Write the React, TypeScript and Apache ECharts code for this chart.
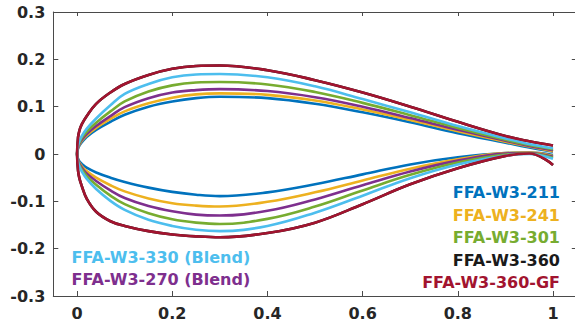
import React, { useEffect, useRef } from "react";
import * as echarts from "echarts";

// Chordwise stations shared by every profile (x / c)
const X_STATIONS = [0, 0.002, 0.005, 0.01, 0.02, 0.04, 0.07, 0.1, 0.15, 0.2, 0.25, 0.3, 0.4, 0.5, 0.6, 0.7, 0.8, 0.9, 0.95, 1];

// Upper / lower surface ordinates (y / c) at the stations above
const UPPER_211 = [0, 0.012, 0.018, 0.025, 0.036, 0.051, 0.068, 0.083, 0.1, 0.111, 0.118, 0.121, 0.118, 0.106, 0.088, 0.067, 0.044, 0.024, 0.014, 0.005];
const LOWER_211 = [0, -0.01, -0.016, -0.021, -0.029, -0.039, -0.05, -0.059, -0.071, -0.08, -0.086, -0.089, -0.081, -0.064, -0.043, -0.022, -0.007, 0.002, 0.003, -0.002];

const UPPER_241 = [0, 0.013, 0.02, 0.028, 0.039, 0.055, 0.074, 0.09, 0.107, 0.119, 0.126, 0.128, 0.125, 0.113, 0.094, 0.072, 0.048, 0.026, 0.016, 0.006];
const LOWER_241 = [0, -0.012, -0.019, -0.026, -0.036, -0.05, -0.066, -0.079, -0.094, -0.104, -0.109, -0.111, -0.101, -0.081, -0.056, -0.031, -0.011, 0.002, 0.003, -0.004];

const UPPER_270 = [0, 0.014, 0.022, 0.03, 0.042, 0.059, 0.08, 0.099, 0.118, 0.13, 0.135, 0.137, 0.133, 0.12, 0.1, 0.076, 0.051, 0.028, 0.017, 0.008];
const LOWER_270 = [0, -0.013, -0.021, -0.029, -0.041, -0.057, -0.077, -0.093, -0.11, -0.121, -0.128, -0.13, -0.12, -0.096, -0.066, -0.037, -0.014, 0.001, 0.002, -0.006];

const UPPER_301 = [0, 0.016, 0.024, 0.034, 0.047, 0.066, 0.09, 0.111, 0.132, 0.145, 0.151, 0.152, 0.147, 0.131, 0.108, 0.082, 0.055, 0.03, 0.019, 0.01];
const LOWER_301 = [0, -0.015, -0.024, -0.033, -0.046, -0.065, -0.088, -0.106, -0.125, -0.138, -0.145, -0.148, -0.137, -0.111, -0.077, -0.044, -0.018, -0.001, 0.001, -0.008];

const UPPER_330 = [0, 0.018, 0.027, 0.038, 0.053, 0.075, 0.103, 0.127, 0.148, 0.162, 0.168, 0.169, 0.162, 0.143, 0.116, 0.088, 0.059, 0.033, 0.021, 0.012];
const LOWER_330 = [0, -0.017, -0.027, -0.037, -0.052, -0.074, -0.099, -0.118, -0.139, -0.152, -0.16, -0.163, -0.152, -0.124, -0.088, -0.051, -0.022, -0.003, 0, -0.01];

const UPPER_360 = [0, 0.035, 0.05, 0.063, 0.08, 0.106, 0.13, 0.148, 0.167, 0.18, 0.186, 0.187, 0.177, 0.156, 0.13, 0.1, 0.068, 0.038, 0.027, 0.018];
const LOWER_360 = [0, -0.035, -0.052, -0.068, -0.094, -0.122, -0.142, -0.152, -0.163, -0.17, -0.174, -0.176, -0.167, -0.145, -0.106, -0.064, -0.03, -0.004, 0.001, -0.023];

const X_TICKS = [0, 0.2, 0.4, 0.6, 0.8, 1];
const Y_TICKS = [-0.3, -0.2, -0.1, 0, 0.1, 0.2, 0.3];

const PROFILES = [
  { name: "FFA-W3-360", color: "#1a1a1a", upper: UPPER_360, lower: LOWER_360 },
  { name: "FFA-W3-211", color: "#0072BD", upper: UPPER_211, lower: LOWER_211 },
  { name: "FFA-W3-241", color: "#EDB120", upper: UPPER_241, lower: LOWER_241 },
  { name: "FFA-W3-270 (Blend)", color: "#7E2F8E", upper: UPPER_270, lower: LOWER_270 },
  { name: "FFA-W3-301", color: "#77AC30", upper: UPPER_301, lower: LOWER_301 },
  { name: "FFA-W3-330 (Blend)", color: "#4DBEEE", upper: UPPER_330, lower: LOWER_330 },
  { name: "FFA-W3-360-GF", color: "#A2142F", upper: UPPER_360, lower: LOWER_360 },
];

const RIGHT_LABELS = [
  { text: "FFA-W3-211", color: "#0072BD" },
  { text: "FFA-W3-241", color: "#EDB120" },
  { text: "FFA-W3-301", color: "#77AC30" },
  { text: "FFA-W3-360", color: "#1a1a1a" },
  { text: "FFA-W3-360-GF", color: "#A2142F" },
];
const LEFT_LABELS = [
  { text: "FFA-W3-330 (Blend)", color: "#4DBEEE" },
  { text: "FFA-W3-270 (Blend)", color: "#7E2F8E" },
];

// Trailing edge -> leading edge along the upper side, then back along the lower side
function contour(upper: number[], lower: number[]): number[][] {
  const pts: number[][] = [];
  for (let i = X_STATIONS.length - 1; i >= 0; i--) pts.push([X_STATIONS[i], upper[i]]);
  for (let i = 1; i < X_STATIONS.length; i++) pts.push([X_STATIONS[i], lower[i]]);
  return pts;
}

const FONT = '"DejaVu Sans", sans-serif';
const AXIS_COLOR = "#4a4a4a";
const LABEL_COLOR = "#262626";

function fmt(v: number): string {
  const r = Math.round(v * 10) / 10;
  return r === 0 ? "0" : String(r);
}

export default function App() {
  const ref = useRef<HTMLDivElement>(null);

  useEffect(() => {
    if (!ref.current) return;
    const chart = echarts.init(ref.current, undefined, { renderer: "svg" });

    const axisBase = {
      type: "value" as const,
      splitLine: { show: false },
      axisLine: { show: true, onZero: false, lineStyle: { color: AXIS_COLOR, width: 1 } },
    };

    chart.setOption({
      animation: false,
      backgroundColor: "#ffffff",
      grid: { left: 53.3, right: 3.2, top: 12, bottom: 33, containLabel: false, outerBoundsMode: "none" },
      xAxis: [
        {
          ...axisBase,
          position: "bottom",
          min: -0.05,
          max: 1.05,
          axisTick: { show: true, inside: true, length: 5, lineStyle: { color: AXIS_COLOR }, customValues: X_TICKS },
          axisLabel: {
            show: true,
            customValues: X_TICKS,
            formatter: (v: number) => fmt(v),
            color: LABEL_COLOR,
            fontFamily: FONT,
            fontWeight: "bold",
            fontSize: 16,
            margin: 9,
          },
        },
        {
          ...axisBase,
          position: "top",
          min: -0.05,
          max: 1.05,
          axisTick: { show: true, inside: true, length: 4, lineStyle: { color: AXIS_COLOR }, customValues: X_TICKS },
          axisLabel: { show: false },
        },
      ],
      yAxis: [
        {
          ...axisBase,
          position: "left",
          min: -0.3,
          max: 0.3,
          axisTick: { show: true, inside: true, length: 5, lineStyle: { color: AXIS_COLOR }, customValues: Y_TICKS },
          axisLabel: {
            show: true,
            customValues: Y_TICKS,
            formatter: (v: number) => fmt(v),
            color: LABEL_COLOR,
            fontFamily: FONT,
            fontWeight: "bold",
            fontSize: 16,
            margin: 8,
          },
        },
        {
          ...axisBase,
          position: "right",
          min: -0.3,
          max: 0.3,
          axisTick: { show: true, inside: true, length: 5, lineStyle: { color: AXIS_COLOR }, customValues: Y_TICKS },
          axisLabel: { show: false },
        },
      ],
      series: PROFILES.map((p) => ({
        type: "line",
        name: p.name,
        xAxisIndex: 0,
        yAxisIndex: 0,
        data: contour(p.upper, p.lower),
        showSymbol: false,
        symbol: "none",
        smooth: 0.4,
        lineStyle: { color: p.color, width: 2.6 },
        itemStyle: { color: p.color },
        z: 2,
      })),
      graphic: [
        ...RIGHT_LABELS.map((l, i) => ({
          type: "text",
          x: 560,
          y: 192.5 + i * 22.5,
          style: {
            text: l.text,
            fill: l.color,
            font: `bold 16px ${FONT}`,
            textAlign: "right",
            textVerticalAlign: "middle",
            align: "right",
            verticalAlign: "middle",
          },
        })),
        ...LEFT_LABELS.map((l, i) => ({
          type: "text",
          x: 71.5,
          y: 257.5 + i * 21.5,
          style: {
            text: l.text,
            fill: l.color,
            font: `bold 16px ${FONT}`,
            textAlign: "left",
            textVerticalAlign: "middle",
            align: "left",
            verticalAlign: "middle",
          },
        })),
      ],
    });

    return () => chart.dispose();
  }, []);

  return (
    <div
      style={{
        position: "fixed",
        left: 0,
        top: 0,
        width: 575,
        height: 329,
        overflow: "hidden",
        background: "#ffffff",
      }}
    >
      <div ref={ref} style={{ width: 580, height: 329 }} />
    </div>
  );
}
